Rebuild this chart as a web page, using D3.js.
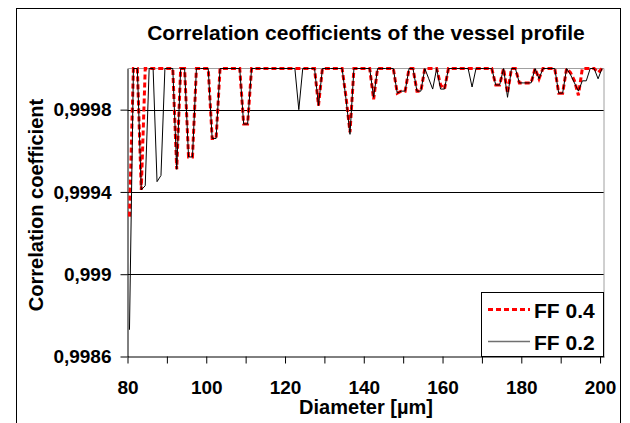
<!DOCTYPE html>
<html>
<head>
<meta charset="utf-8">
<script src="https://cdn.jsdelivr.net/npm/d3@7"></script>
<style>
  body { margin: 0; background: #fff; }
  svg { display: block; font-family: "Liberation Sans", Arial, sans-serif; font-weight: bold; }
</style>
</head>
<body>
<div id="chart"></div>
<script>
// diameters in µm where the profile was sampled
const diameters = [
  80.5, 81.5, 82.5, 83.5, 84.5, 85.5, 86.5, 87.5, 88.5, 89.5,
  90.5, 91.5, 92.5, 93.5, 94.5, 95.5, 96.5, 97.5, 98.5, 99.5,
  100.5, 101.5, 102.5, 103.5, 104.5, 105.5, 106.5, 107.5, 108.5, 109.5,
  110.5, 111.5, 112.5, 113.5, 114.5, 115.5, 116.5, 117.5, 118.5, 119.5,
  120.5, 121.5, 122.5, 123.5, 124.5, 125.5, 126.5, 127.5, 128.5, 129.5,
  130.5, 131.5, 132.5, 133.5, 134.5, 135.5, 136.5, 137.5, 138.5, 139.5,
  140.5, 141.5, 142.5, 143.5, 144.5, 145.5, 146.5, 147.5, 148.5, 149.5,
  150.5, 151.5, 152.5, 153.5, 154.5, 155.5, 156.5, 157.5, 158.5, 159.5,
  160.5, 161.5, 162.5, 163.5, 164.5, 165.5, 166.5, 167.5, 168.5, 169.5,
  170.5, 171.5, 172.5, 173.5, 174.5, 175.5, 176.5, 177.5, 178.5, 179.5,
  180.5, 181.5, 182.5, 183.5, 184.5, 185.5, 186.5, 187.5, 188.5, 189.5,
  190.5, 191.5, 192.5, 193.5, 194.5, 195.5, 196.5, 197.5, 198.5, 199.5,
  200.5
];

const ff04 = [
  0.99928, 1, 1, 0.99941, 1, 1, 1, 1, 1, 1,
  1, 1, 0.99951, 1, 1, 0.99957, 0.99957, 1, 1, 1,
  1, 0.99966, 0.99966, 1, 1, 1, 1, 1, 1, 0.99973,
  0.99973, 1, 1, 1, 1, 1, 1, 1, 1, 1,
  1, 1, 1, 1, 1, 1, 1, 1, 0.99982, 1,
  1, 1, 1, 1, 1, 0.99986, 0.99969, 1, 1, 1,
  1, 1, 0.99985, 1, 1, 1, 1, 1, 0.99988, 0.99989,
  0.99989, 1, 1, 0.99989, 0.99989, 1, 1, 1, 1, 0.99992,
  0.9999, 1, 1, 1, 1, 1, 1, 1, 1, 1,
  1, 1, 1, 0.99992, 0.99992, 1, 0.99988, 1, 1, 0.99993,
  0.99993, 0.99993, 0.99993, 1, 0.99995, 1, 1, 1, 1, 0.99988,
  0.99988, 1, 0.99998, 0.99994, 0.99987, 1, 1, 1, 1, 0.99998,
  1
];

const ff02 = [
  0.99873, 1, 1, 0.99941, 0.99943, 1, 1, 0.99945, 0.99948, 1,
  1, 1, 0.99951, 1, 1, 0.99957, 0.99957, 1, 1, 1,
  1, 0.99966, 0.99966, 1, 1, 1, 1, 1, 1, 0.99973,
  0.99973, 1, 1, 1, 1, 1, 1, 1, 1, 1,
  1, 1, 1, 0.9998, 1, 1, 1, 1, 0.99982, 1,
  1, 1, 1, 1, 1, 0.99985, 0.99968, 1, 1, 1,
  1, 1, 0.99986, 1, 1, 1, 1, 1, 0.99988, 0.99989,
  0.99989, 1, 1, 0.99989, 0.99989, 1, 0.99995, 0.9999, 1, 0.9999,
  0.9999, 1, 1, 1, 1, 1, 1, 0.99991, 1, 1,
  1, 1, 1, 0.99992, 0.99992, 1, 0.99986, 1, 1, 0.99993,
  0.99993, 0.99993, 0.99993, 1, 0.99995, 1, 1, 1, 1, 0.99988,
  0.99988, 1, 0.99997, 0.99993, 0.99989, 0.99994, 0.99994, 1, 1, 0.99995,
  1
];

const xTicks = [80, 90, 100, 110, 120, 130, 140, 150, 160, 170, 180, 190, 200];
const yTicks = [0.9986, 0.999, 0.9994, 0.9998];
const gridValues = [0.999, 0.9994, 0.9998];

const width = 630, height = 423;
const plot = {left: 127.5, right: 604, top: 68.5, bottom: 356.5};

const svg = d3.select('#chart').append('svg')
  .attr('width', width)
  .attr('height', height)
  .attr('viewBox', `0 0 ${width} ${height}`);

// outer chart frame
svg.append('rect')
  .attr('x', 16.5).attr('y', 8.5)
  .attr('width', 604).attr('height', 440)
  .attr('fill', 'none').attr('stroke', '#000');

const x = d3.scaleLinear().domain([80, 201]).range([plot.left, plot.right]);
const y = d3.scaleLinear().domain([0.9986, 1]).range([plot.bottom, plot.top]);

const comma = d3.formatLocale({decimal: ',', thousands: '.', grouping: [3], currency: ['', '']});

//
// Grid and plot border
//

svg.append('g')
  .selectAll('line')
  .data(gridValues)
  .join('line')
  .attr('x1', plot.left).attr('x2', plot.right)
  .attr('y1', d => Math.round(y(d)) + 0.5).attr('y2', d => Math.round(y(d)) + 0.5)
  .attr('stroke', '#000');

svg.append('path')
  .attr('d', `M${plot.left},${plot.top} H${plot.right} V${plot.bottom}`)
  .attr('fill', 'none')
  .attr('stroke', '#a0a0a0');

//
// Axes
//

const yAxis = svg.append('g')
  .attr('transform', `translate(${plot.left},0)`)
  .call(d3.axisLeft(y).tickValues(yTicks).tickSize(7).tickSizeOuter(0).tickPadding(9)
    .tickFormat(comma.format('.4~f')));

const xAxis = svg.append('g')
  .attr('transform', `translate(0,${plot.bottom})`)
  .call(d3.axisBottom(x).tickValues(xTicks).tickSize(7).tickSizeOuter(0).tickPadding(17)
    .tickFormat(d => d % 20 === 0 ? d : ''));

[yAxis, xAxis].forEach(a => {
  a.attr('font-family', null).attr('font-size', null);
  a.selectAll('path, line').attr('stroke', '#000');
  a.selectAll('text').attr('fill', '#000').style('font-size', '19px');
});
xAxis.selectAll('text').attr('dy', null).attr('y', 37);

//
// Series
//

const line = d3.line()
  .x(d => x(d[0]))
  .y(d => y(d[1]));

svg.append('path')
  .datum(d3.zip(diameters, ff04))
  .attr('d', line)
  .attr('fill', 'none')
  .attr('stroke', '#ff0000')
  .attr('stroke-width', 3)
  .attr('stroke-dasharray', '5,3');

svg.append('path')
  .datum(d3.zip(diameters, ff02))
  .attr('d', line)
  .attr('fill', 'none')
  .attr('stroke', '#000')
  .attr('stroke-width', 1);

//
// Legend
//

const legend = svg.append('g');
legend.append('rect')
  .attr('x', 481.5).attr('y', 292.5)
  .attr('width', 122).attr('height', 64)
  .attr('fill', '#fff').attr('stroke', '#000');

const legendItems = [
  {label: 'FF 0.4', color: '#ff0000', width: 3, dash: '5,3'},
  {label: 'FF 0.2', color: '#707070', width: 1.5, dash: null}
];
legendItems.forEach((d, i) => {
  const cy = 309.5 + i * 32;
  legend.append('line')
    .attr('x1', 488).attr('x2', 530)
    .attr('y1', cy).attr('y2', cy)
    .attr('stroke', d.color)
    .attr('stroke-width', d.width)
    .attr('stroke-dasharray', d.dash);
  legend.append('text')
    .attr('x', 534).attr('y', cy + 8)
    .style('font-size', '21px')
    .text(d.label);
});

//
// Titles
//

svg.append('text')
  .attr('x', 366).attr('y', 40)
  .attr('text-anchor', 'middle')
  .style('font-size', '21px')
  .text('Correlation ceofficients of the vessel profile');

svg.append('text')
  .attr('x', 366).attr('y', 414)
  .attr('text-anchor', 'middle')
  .style('font-size', '20px')
  .text('Diameter [µm]');

svg.append('text')
  .attr('transform', 'translate(43,205) rotate(-90)')
  .attr('text-anchor', 'middle')
  .style('font-size', '20px')
  .text('Correlation coefficient');
</script>
</body>
</html>
